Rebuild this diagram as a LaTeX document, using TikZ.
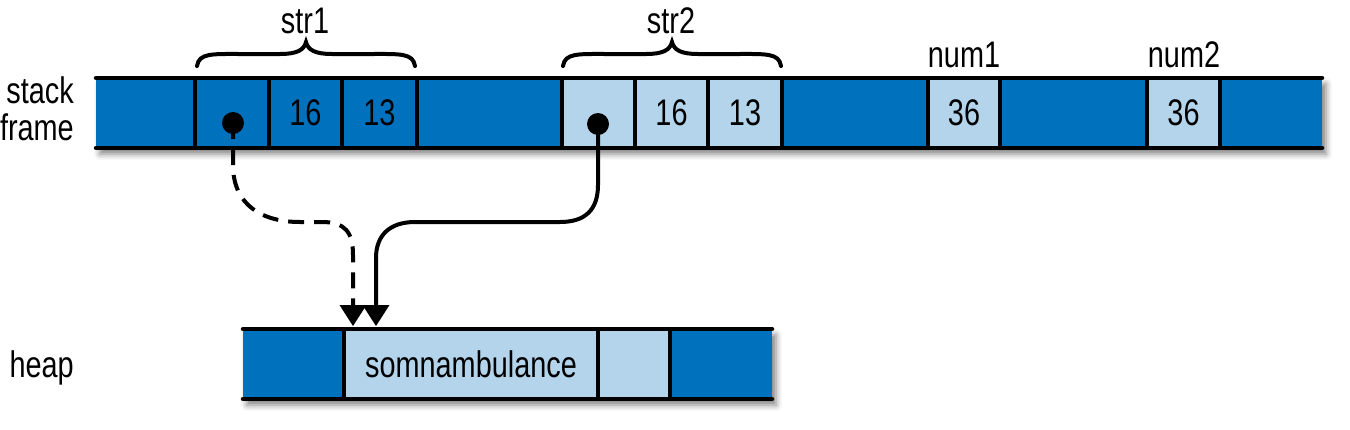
\documentclass[tikz,border=0pt]{standalone}
\usepackage{fontspec}
\setmainfont{Liberation Sans}[FakeStretch=0.78]
\usetikzlibrary{arrows.meta,shadows.blur}
\definecolor{darkblue}{RGB}{0,113,188}
\definecolor{lightblue}{RGB}{179,212,234}
\begin{document}
\begin{tikzpicture}[x=1pt,y=-1pt, font=\fontsize{37}{40}\selectfont,
  cellbox/.style={minimum width=#1, minimum height=70pt, inner sep=0pt, outer sep=0pt, anchor=west},
  dk/.style={fill=darkblue}, lt/.style={fill=lightblue},
  barline/.style={line width=4.5pt, line cap=round},
  divline/.style={line width=4.5pt},
  ptr/.style={line width=4pt},
  tiphead/.style={fill=black},
  ptrdot/.style={circle, fill=black, minimum size=22pt, inner sep=0pt},
  brace/.style={line width=4pt, line cap=round},
  shad/.style={fill=white, blur shadow={shadow xshift=4pt, shadow yshift=-6pt, shadow blur radius=6pt, shadow opacity=50}}]
\useasboundingbox (0,0) rectangle (1350,429);
% shadows
\fill[shad] (96,78) rectangle (1322,148);
\fill[shad] (243,329) rectangle (772,399);
% stack cells
\node[cellbox=99pt, dk] (s1) at (96,113) {};
\node[cellbox=74pt, dk] (s2) at (195,113) {};
\node[cellbox=73pt, dk] (s3) at (269,113) {16};
\node[cellbox=75pt, dk] (s4) at (342,113) {13};
\node[cellbox=145pt, dk] (s5) at (417,113) {};
\node[cellbox=73pt, lt] (s6) at (562,113) {};
\node[cellbox=73pt, lt] (s7) at (635,113) {16};
\node[cellbox=74pt, lt] (s8) at (708,113) {13};
\node[cellbox=146pt, dk] (s9) at (782,113) {};
\node[cellbox=72pt, lt] (s10) at (928,113) {36};
\node[cellbox=147pt, dk] (s11) at (1000,113) {};
\node[cellbox=73pt, lt] (s12) at (1147,113) {36};
\node[cellbox=102pt, dk] (s13) at (1220,113) {};
% heap cells
\node[cellbox=101pt, dk] (h1) at (243,364) {};
\node[cellbox=254pt, lt] (h2) at (344,364) {somnambulance};
\node[cellbox=72pt, lt] (h3) at (598,364) {};
\node[cellbox=102pt, dk] (h4) at (670,364) {};
% lines
\draw[barline] (s1.north west) -- (s13.north east);
\draw[barline] (s1.south west) -- (s13.south east);
\foreach \c in {s1,s2,s3,s4,s5,s6,s7,s8,s9,s10,s11,s12}
  \draw[divline] (\c.north east) -- (\c.south east);
\draw[barline] (h1.north west) -- (h4.north east);
\draw[barline] (h1.south west) -- (h4.south east);
\foreach \c in {h1,h2,h3}
  \draw[divline] (\c.north east) -- (\c.south east);
% labels
\node[anchor=base east, inner sep=0pt] (lstack) at (74,103) {stack};
\node[anchor=base east, inner sep=0pt] (lframe) at (74,140) {frame};
\node[anchor=base east, inner sep=0pt] (lheap) at (74,377) {heap};
\node[anchor=base, inner sep=0pt] (lstr1) at (305,33) {str1};
\node[anchor=base, inner sep=0pt] (lstr2) at (671,33) {str2};
\node[anchor=base, inner sep=0pt] (lnum1) at (964,67) {num1};
\node[anchor=base, inner sep=0pt] (lnum2) at (1184,67) {num2};
% braces
\foreach \dx in {0,366}
  \draw[brace, xshift=\dx pt] (197,66) .. controls (199,53) and (212,54) .. (240,54) -- (280,54) .. controls (297,54) and (304,50) .. (306,42) .. controls (308,50) and (315,54) .. (332,54) -- (372,54) .. controls (400,54) and (413,53) .. (415,66);
% pointers
\node[ptrdot] (d1) at (233,123) {};
\node[ptrdot] (d2) at (598,124) {};
\coordinate (t1) at ([xshift=9pt, yshift=3pt]h2.north west);
\coordinate (t2) at ([xshift=32pt, yshift=3pt]h2.north west);
\draw[ptr, dash pattern=on 16pt off 10pt] (d1.center) -- (233,165) .. controls (233,205) and (262,222) .. (300,222) -- (322,222) .. controls (345,222) and (353,232) .. (353,255) -- ([yshift=18pt]t1);
\draw[ptr] (d2.center) -- (598,185) .. controls (598,210) and (585,222) .. (560,222) -- (415,222) .. controls (390,222) and (376,235) .. (376,258) -- ([yshift=18pt]t2);
\fill[tiphead] (t1) -- ++(-13.5,-21) -- ++(27,0) -- cycle;
\fill[tiphead] (t2) -- ++(-13.5,-21) -- ++(27,0) -- cycle;
\end{tikzpicture}
\end{document}
